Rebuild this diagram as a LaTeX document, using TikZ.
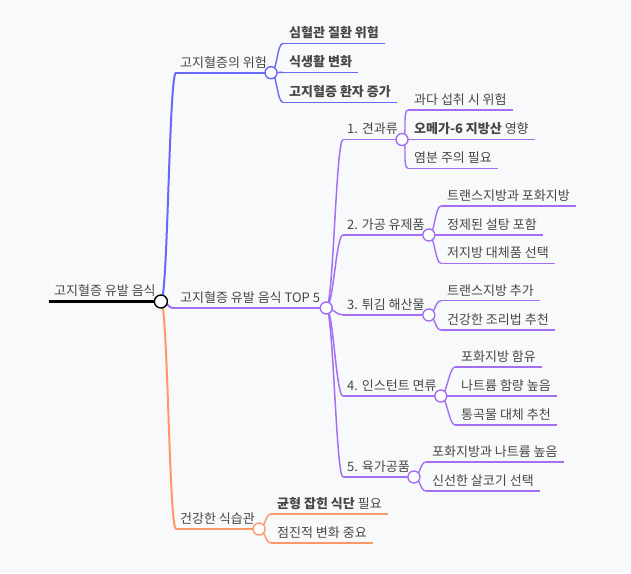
\documentclass[tikz,border=0pt]{standalone}
\usepackage{fontspec}
\setmainfont{Noto Sans CJK KR}
\usepackage{xcolor}
\usepackage{tikz}
\usetikzlibrary{calc}
\definecolor{riskblue}{RGB}{104,104,250}
\definecolor{toppurple}{RGB}{163,112,245}
\definecolor{habitorange}{RGB}{255,152,104}
\definecolor{paper}{RGB}{248,249,251}

\begin{document}
\begin{tikzpicture}[
  x=1pt, y=-1pt,
  font=\fontsize{13}{15}\selectfont,
  topic/.style={anchor=south west, inner xsep=4pt, inner ysep=0pt, text height=9pt, text depth=5.5pt, text=black!72},
  leaf/.style={topic, inner xsep=6pt},
  knob/.style={circle, draw=#1, fill=white, line width=1.4pt, minimum size=12pt, inner sep=0pt},
  branch/.style={to path={.. controls ($(\tikztostart)+(#1,0)$) and ($(\tikztotarget)+(-#1,0)$) .. (\tikztotarget)}},
]
% paper
\fill[paper] (0,0) rectangle (631,573);
\useasboundingbox (0,0) rectangle (631,573);
% root and main topics
\node[topic, inner xsep=5pt] (root) at (49,301.5) {고지혈증 유발 음식};
\node[topic] (risk)  at (176,72.7) {고지혈증의 위험};
\node[topic, inner xsep=6pt] (top) at (174,308) {고지혈증 유발 음식 TOP 5};
\node[topic] (habit) at (176,529)  {건강한 식습관};
% top 5 items
\node[topic] (nuts)   at (343,139.5) {1. 견과류};
\node[topic] (dairy)  at (343,235)   {2. 가공 유제품};
\node[topic] (fried)  at (343,315)   {3. 튀김 해산물};
\node[topic] (noodle) at (343,396)   {4. 인스턴트 면류};
\node[topic] (meat)   at (343,477)   {5. 육가공품};
% leaves
\node[leaf] (risk1) at (283,43.3)  {\textbf{심혈관 질환 위험}};
\node[leaf] (risk2) at (283,72.3)  {\textbf{식생활 변화}};
\node[leaf] (risk3) at (283,102.3) {\textbf{고지혈증 환자 증가}};
\node[leaf] (nuts1) at (408,110)   {과다 섭취 시 위험};
\node[leaf] (nuts2) at (408,139.3) {\textbf{오메가-6 지방산} 영향};
\node[leaf] (nuts3) at (408,168.3) {염분 주의 필요};
\node[leaf] (dairy1) at (441,206)   {트랜스지방과 포화지방};
\node[leaf] (dairy2) at (441,235)   {정제된 설탕 포함};
\node[leaf] (dairy3) at (441,263.3) {저지방 대체품 선택};
\node[leaf] (fried1) at (441,300.7) {트랜스지방 추가};
\node[leaf] (fried2) at (441,330)   {건강한 조리법 추천};
\node[leaf] (noodle1) at (455,367) {포화지방 함유};
\node[leaf] (noodle2) at (455,396) {나트륨 함량 높음};
\node[leaf] (noodle3) at (455,425) {통곡물 대체 추천};
\node[leaf] (meat1) at (426,462) {포화지방과 나트륨 높음};
\node[leaf] (meat2) at (426,491) {신선한 살코기 선택};
\node[leaf] (habit1) at (271,514) {\textbf{균형 잡힌 식단} 필요};
\node[leaf] (habit2) at (271,543) {점진적 변화 중요};
% underlines
\draw[black, line width=3pt] (root.south west) -- (root.south east);
\foreach \n/\c in {risk/riskblue, top/toppurple, habit/habitorange}
  \draw[\c, line width=2pt] (\n.south west) -- (\n.south east);
\foreach \n in {nuts, dairy, fried, noodle, meat}
  \draw[toppurple, line width=1.5pt] (\n.south west) -- (\n.south east);
\foreach \n/\c in {risk1/riskblue, risk2/riskblue, risk3/riskblue, nuts1/toppurple, nuts2/toppurple, nuts3/toppurple, dairy1/toppurple, dairy2/toppurple, dairy3/toppurple, fried1/toppurple, fried2/toppurple, noodle1/toppurple, noodle2/toppurple, noodle3/toppurple, meat1/toppurple, meat2/toppurple, habit1/habitorange, habit2/habitorange}
  \draw[\c, line width=1.4pt] (\n.south west) -- (\n.south east);
% links
\foreach \n/\c in {risk/riskblue, top/toppurple, habit/habitorange}
  \draw[\c, line width=2pt] (root.south east) to[branch=7] (\n.south west);
\foreach \n in {nuts, dairy, fried, noodle, meat}
  \draw[toppurple, line width=1.5pt] (top.south east) to[branch=7] (\n.south west);
\foreach \p/\n/\c in {risk/risk1/riskblue, risk/risk2/riskblue, risk/risk3/riskblue, nuts/nuts1/toppurple, nuts/nuts2/toppurple, nuts/nuts3/toppurple, dairy/dairy1/toppurple, dairy/dairy2/toppurple, dairy/dairy3/toppurple, fried/fried1/toppurple, fried/fried2/toppurple, noodle/noodle1/toppurple, noodle/noodle2/toppurple, noodle/noodle3/toppurple, meat/meat1/toppurple, meat/meat2/toppurple, habit/habit1/habitorange, habit/habit2/habitorange}
  \draw[\c, line width=1.4pt] (\p.south east) to[branch=6] (\n.south west);
% knobs
\node[knob=black, minimum size=13pt] (root-knob) at (root.south east) {};
\foreach \n/\c in {risk/riskblue, top/toppurple, habit/habitorange, nuts/toppurple, dairy/toppurple, fried/toppurple, noodle/toppurple, meat/toppurple}
  \node[knob=\c] (\n-knob) at (\n.south east) {};
\end{tikzpicture}
\end{document}
